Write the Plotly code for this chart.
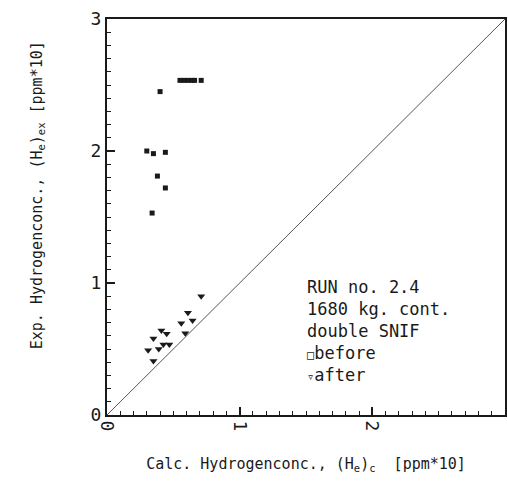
import plotly.graph_objects as go

# Hydrogen concentration, calculated vs. experimental [ppm*10]
before_x = [0.30, 0.35, 0.44, 0.38, 0.44, 0.34, 0.40, 0.55, 0.58, 0.61, 0.64, 0.66, 0.71]
before_y = [2.00, 1.98, 1.99, 1.81, 1.72, 1.53, 2.45, 2.535, 2.535, 2.535, 2.535, 2.535, 2.535]

after_x = [0.71, 0.61, 0.645, 0.56, 0.59, 0.41, 0.45, 0.35, 0.425, 0.47, 0.39, 0.31, 0.35]
after_y = [0.90, 0.775, 0.715, 0.695, 0.62, 0.64, 0.615, 0.58, 0.535, 0.535, 0.50, 0.49, 0.41]

axis_range = [0, 3]
tick_step = 1
minor_step = 0.1

FONT = "DejaVu Sans Mono"
INK = "#1a1a1a"

fig = go.Figure()

# line of equality
fig.add_trace(go.Scatter(x=axis_range, y=axis_range, mode="lines",
                         line=dict(color="#555555", width=1), hoverinfo="skip"))

fig.add_trace(go.Scatter(x=before_x, y=before_y, mode="markers", name="before",
                         marker=dict(symbol="square", size=5, color=INK)))
fig.add_trace(go.Scatter(x=after_x, y=after_y, mode="markers", name="after",
                         marker=dict(symbol="triangle-down", size=7, color=INK)))

axis_common = dict(
    range=axis_range, tickmode="linear", tick0=0, dtick=tick_step,
    showgrid=False, zeroline=False, showline=True, mirror=True,
    linecolor=INK, linewidth=2,
    ticks="inside", ticklen=8, tickwidth=1.5, tickcolor=INK,
    minor=dict(dtick=minor_step, ticks="inside", ticklen=4, tickwidth=1.2, tickcolor=INK),
    tickfont=dict(family=FONT, size=18, color=INK),
    layer="above traces",
)

fig.update_xaxes(**axis_common, tickangle=90,
                 title=dict(text="Calc. Hydrogenconc., (H<sub>e</sub>)<sub>c</sub>  [ppm*10]",
                            font=dict(family=FONT, size=15, color=INK), standoff=28))
fig.update_yaxes(**axis_common)

# y-axis title, placed a little above the axis centre
fig.add_annotation(
    x=0, y=0.555, xref="paper", yref="paper", xanchor="center", yanchor="middle",
    xshift=-70, textangle=-90, showarrow=False,
    text="Exp. Hydrogenconc., (H<sub>e</sub>)<sub>ex</sub> [ppm*10]",
    font=dict(family=FONT, size=15, color=INK),
)

fig.add_annotation(
    x=1.49, y=1.06, xref="x", yref="y", xanchor="left", yanchor="top",
    showarrow=False, align="left",
    text=("RUN no. 2.4<br>1680 kg. cont.<br>double SNIF<br>"
          "<span style='font-size:12px;color:#1a1a1a'>□</span>before<br>"
          "<span style='font-size:12px;color:#1a1a1a'>▿</span>after"),
    font=dict(family=FONT, size=17, color=INK),
)

fig.update_layout(
    template="none",
    width=508, height=493, showlegend=False,
    paper_bgcolor="white", plot_bgcolor="white",
    margin=dict(l=107, r=3, t=19, b=78),
)

fig.write_html("out.html")
